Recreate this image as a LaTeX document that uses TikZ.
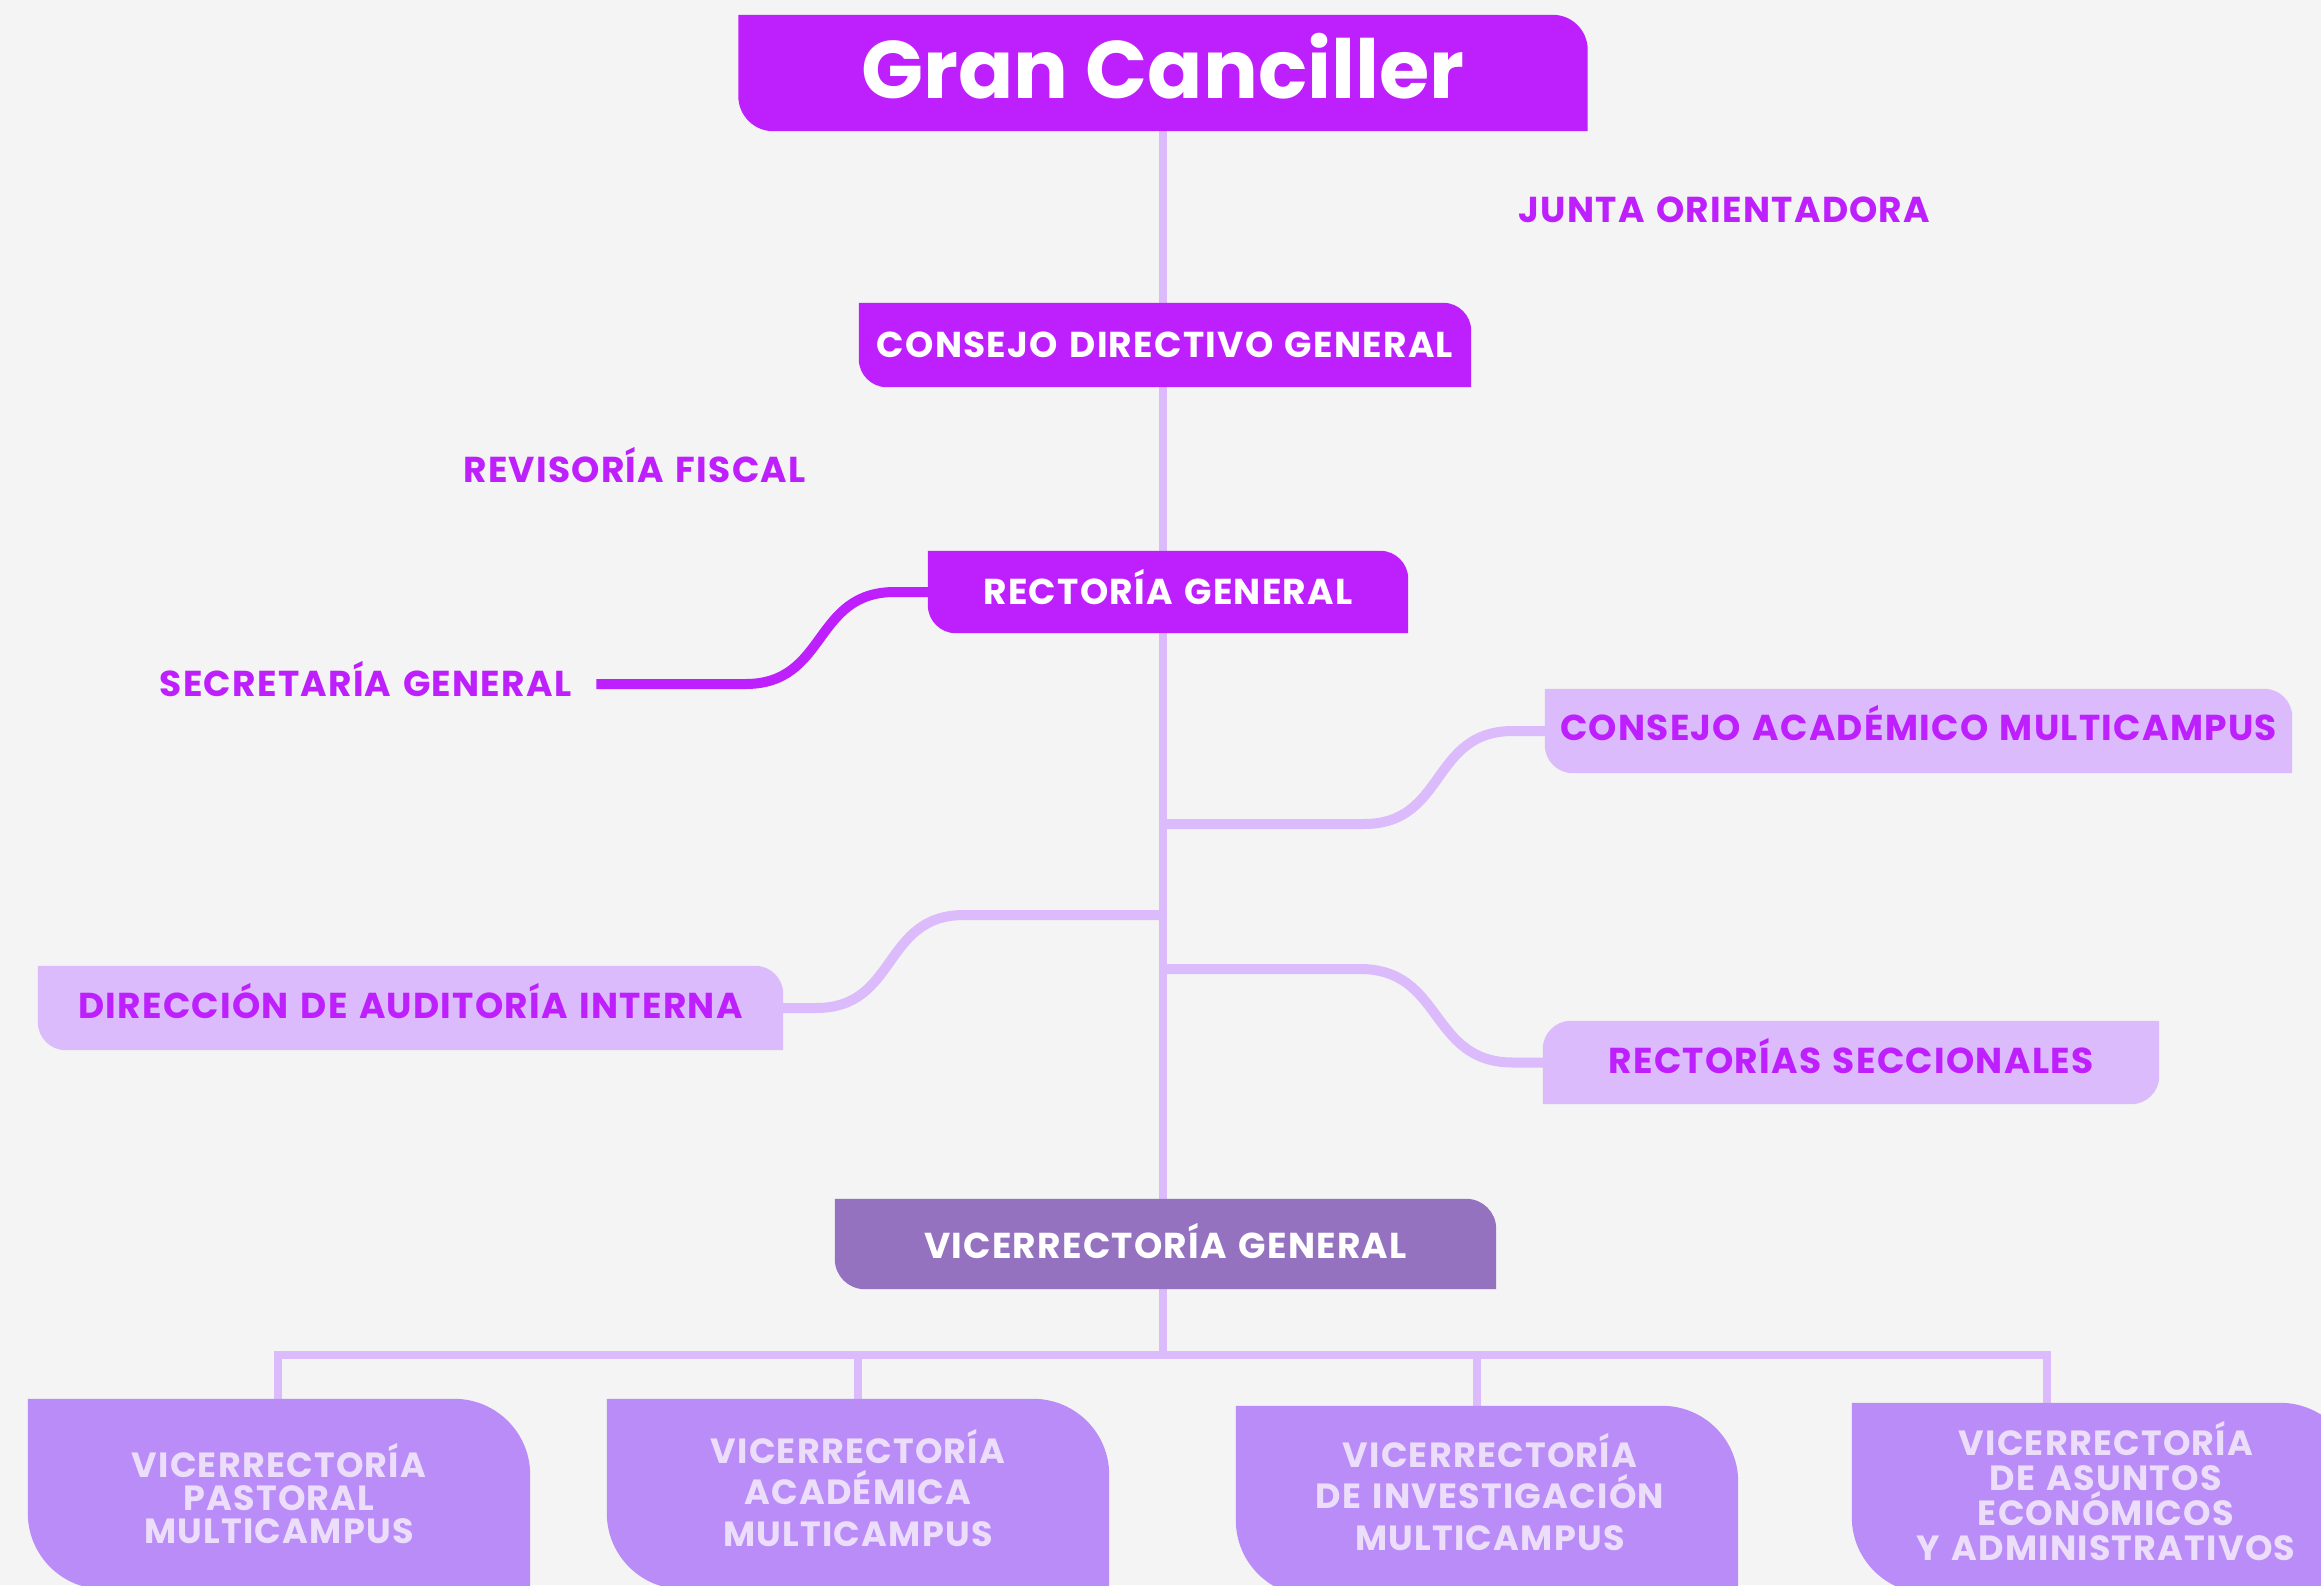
\documentclass[tikz,border=0pt]{standalone}
\usepackage{fontspec}
\setmainfont{Poppins}
\newfontfamily\lblfont[LetterSpace=3.5, WordSpace=1.3]{Poppins}
\usetikzlibrary{calc,backgrounds}

\definecolor{ucfondo}{RGB}{243,244,243}
\definecolor{ucmagenta}{RGB}{190,32,253}
\definecolor{uclila}{RGB}{219,187,252}
\definecolor{ucmorado}{RGB}{148,114,192}
\definecolor{ucviola}{RGB}{186,140,247}
\definecolor{ucpalido}{RGB}{236,222,250}

% box with round top right and bottom left corners
\newcommand\leafbox[4][0,0]{%
  \fill[#3] let \p1=($(#2.north west)+(#1)$), \p2=($(#2.south east)+(#1)$) in
    (\x1,\y1) -- (\x2-#4,\y1) arc (90:0:#4) -- (\x2,\y2)
    -- (\x1+#4,\y2) arc (270:180:#4) -- cycle;}
% the other way round
\newcommand\leafboxflip[3]{%
  \fill[#2] let \p1=(#1.north west), \p2=(#1.south east) in
    (\x1,\y1-#3) arc (180:90:#3) -- (\x2,\y1)
    -- (\x2,\y2+#3) arc (0:-90:#3) -- (\x1,\y2) -- cycle;}

\tikzset{
every picture/.style={
x=1pt, y=-1pt
}}

\begin{document}
\begin{tikzpicture}[
lbl/.style = {inner sep=0pt, text=ucmagenta, text height=25pt, text depth=0pt,
  font=\lblfont\bfseries\fontsize{36}{36}\selectfont},
whitelbl/.style = {lbl, text=white},
sub/.style = {inner sep=0pt, align=center, text=ucpalido, minimum width=502pt,
  minimum height=190pt, font=\lblfont\bfseries\fontsize{35}{#1}\selectfont},
trunk/.style = {draw=uclila, line width=8pt},
branch/.style = {draw=uclila, line width=10pt}]

\useasboundingbox (0,0) rectangle (2321,1585);

% main chain
\node[minimum width=849pt, minimum height=116pt, inner sep=0pt, text=white,
  text height=58pt, text depth=8pt, font=\bfseries\fontsize{81.5}{80}\selectfont]
  (gc) at (1163,73) {Gran Canciller};
\node[lbl] (jo) at (1724.5,210) {JUNTA ORIENTADORA};
\node[whitelbl, minimum width=612pt, minimum height=84pt] (cdg) at (1165,345) {CONSEJO DIRECTIVO GENERAL};
\node[lbl] (rf) at (634.5,470) {REVISORÍA FISCAL};
\node[whitelbl, minimum width=480pt, minimum height=82pt] (rg) at (1168,592) {RECTORÍA GENERAL};
\node[lbl] (sg) at (365.5,684) {SECRETARÍA GENERAL};

% side boxes
\node[lbl, text depth=6pt, minimum width=747pt, minimum height=84pt] (cam) at (1918.5,731) {CONSEJO ACADÉMICO MULTICAMPUS};
\node[lbl, text depth=5pt, minimum width=745pt, minimum height=84pt] (dai) at (410.5,1008) {DIRECCIÓN DE AUDITORÍA INTERNA};
\node[lbl, text depth=4pt, minimum width=616pt, minimum height=83pt] (rs) at (1851,1062.5) {RECTORÍAS SECCIONALES};
\node[whitelbl, text height=28pt, minimum width=661pt, minimum height=90pt] (vg) at (1165.5,1244) {VICERRECTORÍA GENERAL};

% vicerrectorias
\node[sub=33] (vp) at (279,1494) {VICERRECTORÍA\\PASTORAL\\MULTICAMPUS};
\node[sub=41.5] (va) at (858,1488) {VICERRECTORÍA\\ACADÉMICA\\MULTICAMPUS};
\node[sub=41.5] (vi) at (1490,1492) {VICERRECTORÍA\\DE INVESTIGACIÓN\\MULTICAMPUS};
\node[sub=35, minimum width=504pt] (vea) at (2106,1491) {VICERRECTORÍA\\DE ASUNTOS\\ECONÓMICOS\\Y ADMINISTRATIVOS};

\begin{scope}[on background layer]
\fill[ucfondo] (0,0) rectangle (2321,1585);

\draw[trunk] (gc.south) -- (gc.south |- cdg.north);
\draw[trunk] (gc.south |- cdg.south) -- (gc.south |- rg.north);
\draw[trunk] (gc.south |- rg.south) -- (gc.south |- vg.north);

\coordinate (bar) at (1163,1355);
\draw[trunk] (gc.south |- vg.south) -- (bar);
\draw[trunk] (278,0 |- vp.north) |- (bar) -| (2047,0 |- vea.south);
\foreach \v/\x in {va/858, vi/1477}
  \draw[trunk] (\x,0 |- bar) -- (\x,0 |- \v.south);

\coordinate (jcam) at (1163,824);
\coordinate (jdai) at (1163,915);
\coordinate (jrs) at (1163,969);
\draw[branch] (jcam) -- ++(201,0) to[out=0,in=180,looseness=1.2] ($(cam.west)+(-32,0)$) -- (cam.west);
\draw[branch] (jrs) -- ++(197,0) to[out=0,in=180,looseness=1.2] ($(rs.west)+(-30,0)$) -- (rs.west);
\draw[branch] (dai.east) -- ++(33,0) to[out=0,in=180,looseness=1.2] ($(jdai)+(-199,0)$) -- (jdai);
\draw[branch, draw=ucmagenta] ([xshift=25pt]sg.east) -- ++(149,0)
  to[out=0,in=180,looseness=1.2] ($(rg.west)+(-33,0)$) -- (rg.west);

\leafbox{gc}{ucmagenta}{35pt}
\leafbox{cdg}{ucmagenta}{28pt}
\leafbox{rg}{ucmagenta}{28pt}
\leafbox{cam}{uclila}{28pt}
\leafbox{dai}{uclila}{28pt}
\leafboxflip{rs}{uclila}{28pt}
\leafbox{vg}{ucmorado}{30pt}
\leafbox{vp}{ucviola}{76pt}
\leafbox[0,6]{va}{ucviola}{76pt}
\leafbox[-3,9]{vi}{ucviola}{76pt}
\leafbox[-2,7]{vea}{ucviola}{76pt}
\end{scope}
\end{tikzpicture}
\end{document}
